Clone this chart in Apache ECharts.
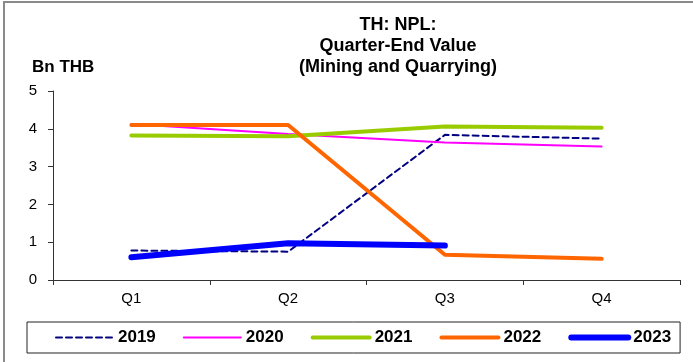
<!DOCTYPE html>
<html>
<head>
<meta charset="utf-8">
<script src="https://cdn.jsdelivr.net/npm/echarts@6/dist/echarts.min.js"></script>
<style>
html,body{margin:0;padding:0;background:#fff;}
#wrap{position:relative;width:693px;height:362px;}
#chart{position:absolute;left:0;top:0;width:693px;height:362px;}
#bl{position:absolute;left:3px;top:1px;width:2px;height:361px;background:#8a8a8a;}
#bt{position:absolute;left:3px;top:1px;width:690px;height:2px;background:#8a8a8a;}
</style>
</head>
<body>
<div id="wrap">
<div id="chart"></div>
<div id="bl"></div>
<div id="bt"></div>
</div>
<script>
var categories = ['Q1', 'Q2', 'Q3', 'Q4'];
var years = ['2019', '2020', '2021', '2022', '2023'];
var s2019 = [0.78, 0.75, 3.84, 3.74];
var s2020 = [4.13, 3.86, 3.64, 3.53];
var s2021 = [3.82, 3.80, 4.06, 4.03];
var s2022 = [4.10, 4.10, 0.67, 0.56];
var s2023 = [0.60, 0.97, 0.91];
var yTicks = [0, 1, 2, 3, 4, 5];

var font = 'Liberation Sans, Arial, sans-serif';
var colors = ['#000080', '#FF00FF', '#99CC00', '#FF6600', '#0000FF'];
var widths = [2, 2, 4, 4, 6];
var types = [[6, 4], 'solid', 'solid', 'solid', 'solid'];
var chart = echarts.init(document.getElementById('chart'));
var seriesData = [s2019, s2020, s2021, s2022, s2023];
var series = years.map(function (y, i) {
  return {
    name: y, type: 'line', data: seriesData[i], symbol: 'none', showSymbol: false,
    lineStyle: { color: colors[i], width: widths[i], type: types[i], cap: 'round' },
    itemStyle: { color: colors[i] },
    z: 2
  };
});
var legendData = years.map(function (y, i) {
  return { name: y, lineStyle: { color: colors[i], width: widths[i], type: types[i] } };
});
chart.setOption({
  animation: false,
  title: [
    { text: 'TH: NPL:\nQuarter-End Value\n(Mining and Quarrying)', left: 393, top: 10, textAlign: 'center',
      textStyle: { fontFamily: font, fontWeight: 'bold', fontSize: 18, lineHeight: 21, color: '#000' } },
    { text: 'Bn THB', left: 27, top: 54,
      textStyle: { fontFamily: font, fontWeight: 'bold', fontSize: 17, color: '#000' } }
  ],
  grid: { left: 53, right: 13, top: 91, bottom: 82, containLabel: false },
  legend: {
    data: legendData, left: 27, top: 322, orient: 'horizontal', width: 624,
    borderColor: '#222', borderWidth: 1, padding: [7, 9, 7, 28],
    itemWidth: 57, itemHeight: 14, itemGap: 27,
    itemStyle: { opacity: 0 },
    textStyle: { fontFamily: font, fontWeight: 'bold', fontSize: 17, color: '#000' }
  },
  xAxis: {
    type: 'category', data: categories, boundaryGap: true,
    axisLine: { lineStyle: { color: '#333', width: 1 } },
    axisTick: { show: true, length: 5, lineStyle: { color: '#333' } },
    axisLabel: { color: '#000', fontFamily: font, fontSize: 15, margin: 11 },
    splitLine: { show: false }
  },
  yAxis: {
    type: 'value', min: yTicks[0], max: yTicks[yTicks.length - 1], interval: 1,
    axisLine: { show: true, lineStyle: { color: '#333', width: 1 } },
    axisTick: { show: true, length: 5, lineStyle: { color: '#333' } },
    axisLabel: { color: '#000', fontFamily: font, fontSize: 15, margin: 16 },
    splitLine: { show: false }
  },
  series: series
});
</script>
</body>
</html>
